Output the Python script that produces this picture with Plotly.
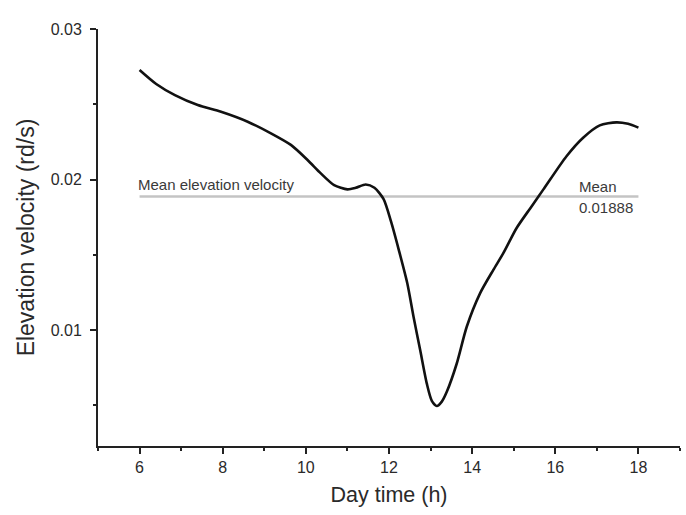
import plotly.graph_objects as go

# Elevation velocity over the day (hours, rad/s)
hours = [6.0, 6.4, 6.85, 7.4, 7.96, 8.6, 9.16, 9.64, 10.04, 10.36, 10.68, 11.0,
         11.2, 11.44, 11.65, 11.87, 12.05, 12.235, 12.44, 12.59, 12.75, 12.91,
         13.03, 13.15, 13.27, 13.39, 13.63, 13.87, 14.19, 14.51, 14.75, 15.07,
         15.4, 15.71, 16.27, 16.67, 17.07, 17.47, 17.75, 18.0]
velocity = [0.02728, 0.02635, 0.02561, 0.02495, 0.02450, 0.02384, 0.02307,
            0.02230, 0.02130, 0.02041, 0.01963, 0.01935, 0.01945, 0.01967,
            0.01945, 0.01870, 0.01720, 0.01533, 0.01311, 0.01089, 0.00867,
            0.00644, 0.00530, 0.00496, 0.00525, 0.00590, 0.00778, 0.01022,
            0.01244, 0.01400, 0.01511, 0.01678, 0.01810, 0.01933, 0.02155,
            0.02278, 0.02360, 0.02380, 0.02370, 0.02345]

mean_value = 0.01888
mean_span = [6, 18]
mean_label_x = 16.58

x_ticks = [6, 8, 10, 12, 14, 16, 18]
y_ticks = [0.01, 0.02, 0.03]
y_tick_text = ["0.01", "0.02", "0.03"]

FONT = "Liberation Sans, Arial, sans-serif"
TXT = "#2a2a2a"
NOTE = "#3a3a3a"

fig = go.Figure()

fig.add_trace(go.Scatter(
    x=mean_span, y=[mean_value, mean_value], mode="lines",
    line=dict(color="#c4c4c4", width=2.5), hoverinfo="skip", showlegend=False))

fig.add_trace(go.Scatter(
    x=hours, y=velocity, mode="lines",
    line=dict(color="#111111", width=2.6, shape="spline", smoothing=0.7),
    showlegend=False))

fig.add_annotation(x=mean_span[0], y=mean_value, text="Mean elevation velocity",
                   xanchor="left", yanchor="bottom", yshift=1, xshift=-4,
                   showarrow=False, font=dict(family=FONT, size=15, color=NOTE))
fig.add_annotation(x=mean_label_x, y=mean_value, text="Mean",
                   xanchor="left", yanchor="bottom", yshift=-1, xshift=-2,
                   showarrow=False, font=dict(family=FONT, size=15, color=NOTE))
fig.add_annotation(x=mean_label_x, y=mean_value, text=f"{mean_value:.5f}",
                   xanchor="left", yanchor="top", yshift=-1, xshift=-2,
                   showarrow=False, font=dict(family=FONT, size=15, color=NOTE))

fig.update_layout(
    width=686, height=515,
    margin=dict(l=98, r=6, t=29, b=69),
    paper_bgcolor="white", plot_bgcolor="white",
    font=dict(family=FONT, color=TXT),
    xaxis=dict(
        range=[5, 19], tickvals=x_ticks, showgrid=False, zeroline=False,
        showline=True, linecolor="#222", linewidth=2,
        ticks="outside", ticklen=6, tickwidth=2, tickcolor="#222",
        minor=dict(dtick=1, ticks="outside", ticklen=3, tickwidth=2, tickcolor="#222"),
        tickfont=dict(family=FONT, size=16, color=TXT),
        title=dict(text="Day time (h)", font=dict(family=FONT, size=21.5, color=TXT), standoff=12),
    ),
    yaxis=dict(
        range=[0.0023, 0.03], tickvals=y_ticks, ticktext=y_tick_text,
        showgrid=False, zeroline=False,
        showline=True, linecolor="#222", linewidth=2,
        ticks="outside", ticklen=6, tickwidth=2, tickcolor="#222",
        ticklabelstandoff=5,
        minor=dict(dtick=0.005, tick0=0, ticks="outside", ticklen=3, tickwidth=2, tickcolor="#222"),
        tickfont=dict(family=FONT, size=16, color=TXT),
        title=dict(text="Elevation velocity (rd/s)", font=dict(family=FONT, size=23, color=TXT), standoff=10),
    ),
)

fig.write_html("out.html")
